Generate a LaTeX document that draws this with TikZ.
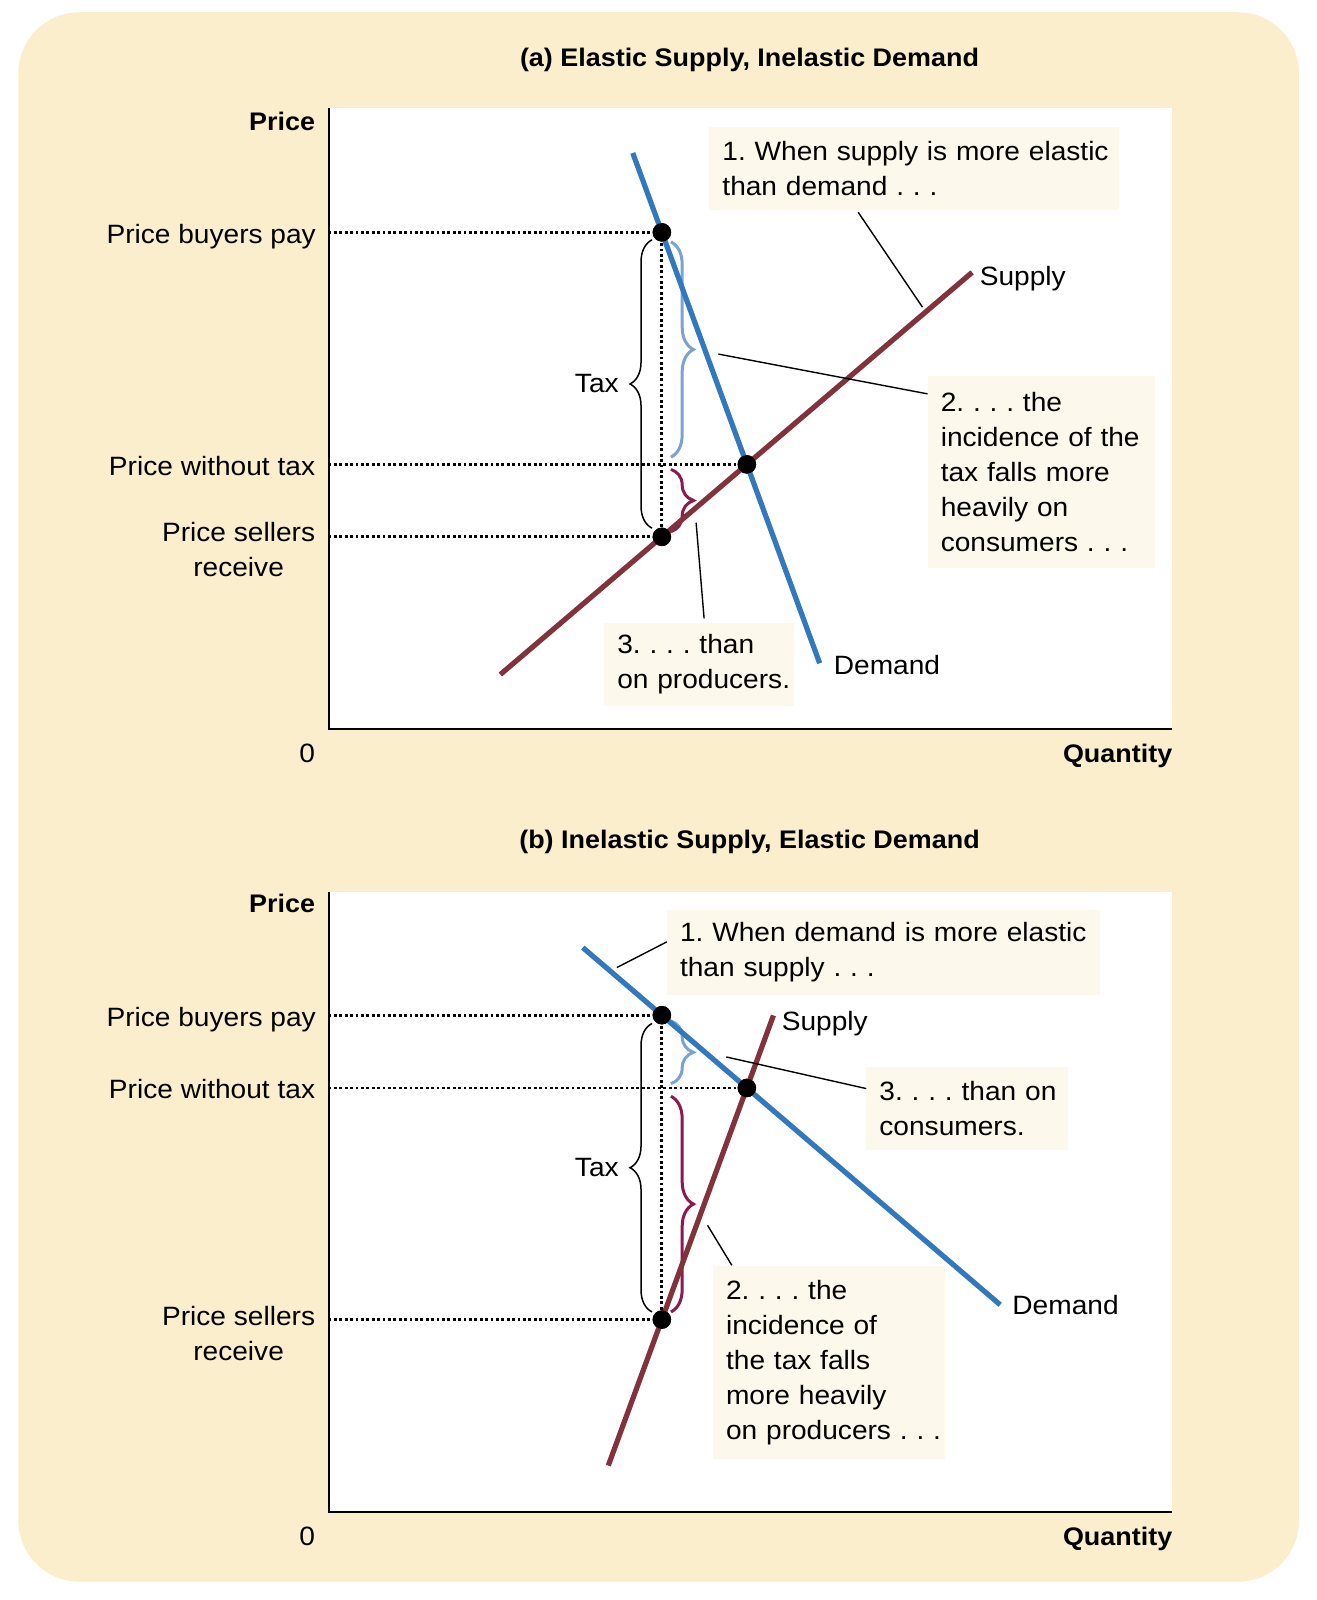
\documentclass[tikz,border=0pt]{standalone}
\usepackage{fontspec}
\setmainfont{Liberation Sans}[FakeStretch=1.06]
\usetikzlibrary{calc,decorations.pathreplacing}
\definecolor{bgyellow}{RGB}{250,238,204}
\definecolor{cream}{RGB}{253,248,236}
\definecolor{demandblue}{RGB}{50,120,190}
\definecolor{supplyred}{RGB}{130,50,58}
\definecolor{braceblue}{RGB}{122,162,212}
\definecolor{bracepurple}{RGB}{140,26,76}
\frenchspacing
\begin{document}
\begin{tikzpicture}[x=1.0202pt,y=-1.0202pt,
  txt/.style={inner sep=0pt,font=\fontsize{26.5pt}{35pt}\selectfont},
  boldtxt/.style={inner sep=0pt,font=\fontsize{25.4pt}{30pt}\selectfont\bfseries},
  axisline/.style={line width=2pt,black},
  dotline/.style={line width=2.8pt,dash pattern=on 2.8pt off 2.6pt},
  demandline/.style={line width=5.2pt,demandblue},
  supplyline/.style={line width=5.2pt,supplyred},
  pointdot/.style={circle,fill=black,inner sep=0pt,minimum size=18.5pt},
  leader/.style={line width=1.4pt},
  taxbrace/.style={decorate,decoration={brace,amplitude=22pt},line width=1.5pt},
  buyerbrace/.style={decorate,decoration={brace,amplitude=22.5pt},line width=3pt,braceblue},
  sellerbrace/.style={decorate,decoration={brace,amplitude=22.5pt},line width=3pt,bracepurple},
  callout/.style={fill=cream,inner sep=0pt,anchor=north west,align=left,font=\fontsize{26.5pt}{35pt}\selectfont}
]
\useasboundingbox (0,0) rectangle (1290,1568);
\fill[bgyellow,rounded corners=61pt] (18,12) rectangle (1273,1550);

% ================= Panel (a) =================
\fill[white] (322,106) rectangle (1149,714);
\coordinate (oA) at (322,714);
\coordinate (yA) at (322,106);
\coordinate (xA) at (1149,714);
\draw[axisline] (yA) -- (oA) -- (xA);
\node[boldtxt,anchor=base] (titleA) at (734.5,64.7) {(a) Elastic Supply, Inelastic Demand};
\node[boldtxt,anchor=base east] (priceA) at (309,127.4) {Price};
\node[txt,anchor=base] (zeroA) at (301,747.5) {0};
\node[boldtxt,anchor=base east] (qtyA) at (1149,747.5) {Quantity};

\node[pointdot] (pA) at (648.6,227.7) {};
\node[pointdot] (eA) at (731.9,455.1) {};
\node[pointdot] (sA) at (648.6,526.1) {};

\node[txt,anchor=base east] (bpA) at (309.7,238.5) {Price buyers pay};
\node[txt,anchor=base east] (ntA) at (309,465.6) {Price without tax};
\node[txt,anchor=east,align=center] (srA) at (309,538.5) {Price sellers\\receive};

\draw[dotline] (pA -| oA) -- (pA.center);
\draw[dotline] (eA -| oA) -- (eA.center);
\draw[dotline] (sA -| oA) -- (sA.center);
\draw[dotline] (pA.center) -- (sA.center);

\draw[taxbrace] (639,517.6) -- (639,235);
\node[txt,anchor=east] (taxA) at (606.5,376) {Tax};
\draw[buyerbrace] (657.5,237) -- (657.5,448);
\draw[sellerbrace] (657.5,460) -- (657.5,521);

\draw[demandline] ($(pA)!-0.342!(eA)$) -- ($(pA)!1.857!(eA)$);
\draw[supplyline] ($(sA)!-1.9!(eA)$) -- ($(sA)!3.65!(eA)$);
\node[txt,anchor=base west] (supA) at (960,279.4) {Supply};
\node[txt,anchor=base west] (demA) at (817,661) {Demand};

\node[pointdot] at (pA) {};
\node[pointdot] at (eA) {};
\node[pointdot] at (sA) {};

\node[callout,minimum width=409.1pt,minimum height=83.7pt,text width=383pt] (cA1) at (695,124)
  {\mbox{1. When supply is more elastic}\\\mbox{than demand . . .}};
\node[callout,minimum width=227.5pt,minimum height=191.8pt,text width=201.5pt] (cA2) at (909,368)
  {\mbox{2. . . . the}\\\mbox{incidence of the}\\\mbox{tax falls more}\\\mbox{heavily on}\\\mbox{consumers . . .}};
\node[callout,minimum width=189.8pt,minimum height=83.7pt,text width=163.8pt] (cA3) at (592,610)
  {\mbox{3. . . . than}\\\mbox{on producers.}};

\coordinate (lA1a) at (841,208);
\coordinate (lA1b) at (904,301);
\coordinate (lA2a) at (704,347);
\coordinate (lA2b) at (909,386);
\coordinate (lA3a) at (682.2,512.3);
\coordinate (lA3b) at (690,606);
\draw[leader] (lA1a) -- (lA1b);
\draw[leader] (lA2a) -- (lA2b);
\draw[leader] (lA3a) -- (lA3b);

% ================= Panel (b) =================
\fill[white] (322,874) rectangle (1149,1481.8);
\coordinate (oB) at (322,1481.8);
\coordinate (yB) at (322,874);
\coordinate (xB) at (1149,1481.8);
\draw[axisline] (yB) -- (oB) -- (xB);
\node[boldtxt,anchor=base] (titleB) at (734.5,832) {(b) Inelastic Supply, Elastic Demand};
\node[boldtxt,anchor=base east] (priceB) at (309,894.7) {Price};
\node[txt,anchor=base] (zeroB) at (301,1514.4) {0};
\node[boldtxt,anchor=base east] (qtyB) at (1149,1514.4) {Quantity};

\node[pointdot] (pB) at (648.6,994.9) {};
\node[pointdot] (eB) at (731.9,1066.2) {};
\node[pointdot] (sB) at (648.6,1293.2) {};

\node[txt,anchor=base east] (bpB) at (309.7,1005.8) {Price buyers pay};
\node[txt,anchor=base east] (ntB) at (309,1076.6) {Price without tax};
\node[txt,anchor=east,align=center] (srB) at (309,1306.5) {Price sellers\\receive};

\draw[dotline] (pB -| oB) -- (pB.center);
\draw[dotline] (eB -| oB) -- (eB.center);
\draw[dotline] (sB -| oB) -- (sB.center);
\draw[dotline] (pB.center) -- (sB.center);

\draw[taxbrace] (639,1285.7) -- (639,1003);
\node[txt,anchor=east] (taxB) at (606.5,1144) {Tax};
\draw[buyerbrace] (657.5,1000.5) -- (657.5,1062);
\draw[sellerbrace] (657.5,1074.3) -- (657.5,1285.7);

\draw[demandline] ($(pB)!-0.93!(eB)$) -- ($(pB)!3.98!(eB)$);
\draw[supplyline] ($(sB)!-0.63!(eB)$) -- ($(sB)!1.313!(eB)$);
\node[txt,anchor=base west] (supB) at (766,1009.5) {Supply};
\node[txt,anchor=base west] (demB) at (992,1288) {Demand};

\node[pointdot] at (pB) {};
\node[pointdot] at (eB) {};
\node[pointdot] at (sB) {};

\node[callout,minimum width=432.4pt,minimum height=85pt,text width=406.4pt] (cB1) at (653.5,891.3)
  {\mbox{1. When demand is more elastic}\\\mbox{than supply . . .}};
\node[callout,minimum width=201.3pt,minimum height=83.1pt,text width=175.3pt] (cB3) at (848.9,1045.5)
  {\mbox{3. . . . than on}\\\mbox{consumers.}};
\node[callout,minimum width=232.3pt,minimum height=193.3pt,text width=206.3pt] (cB2) at (698.6,1240)
  {\mbox{2. . . . the}\\\mbox{incidence of}\\\mbox{the tax falls}\\\mbox{more heavily}\\\mbox{on producers . . .}};

\coordinate (lB1a) at (604.5,948.2);
\coordinate (lB1b) at (653.5,923);
\coordinate (lB3a) at (711.7,1035.8);
\coordinate (lB3b) at (848.9,1066.8);
\coordinate (lB2a) at (693.4,1200.8);
\coordinate (lB2b) at (717.2,1240);
\draw[leader] (lB1a) -- (lB1b);
\draw[leader] (lB3a) -- (lB3b);
\draw[leader] (lB2a) -- (lB2b);
\end{tikzpicture}
\end{document}
